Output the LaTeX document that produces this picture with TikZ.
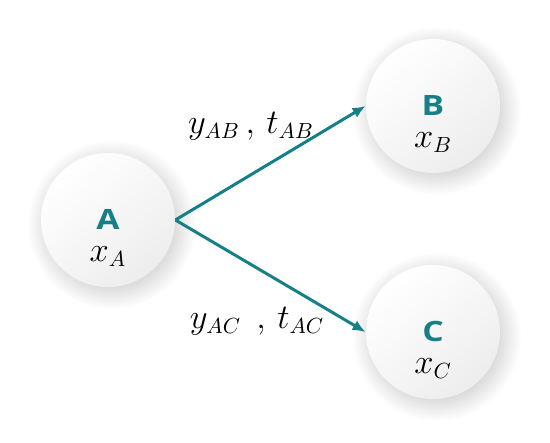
\documentclass[tikz,border=0pt]{standalone}
\usepackage{fontspec}
\setsansfont{Open Sans}
\usetikzlibrary{arrows.meta,shadows.blur}
\definecolor{tealline}{RGB}{22,128,134}
\newcommand{\ballname}[1]{{\sffamily\bfseries\fontsize{14}{16}\selectfont\color{tealline}\scalebox{1.2}[1]{#1}}}
\begin{document}
\begin{tikzpicture}[
 x=0.5pt,y=0.5pt,
 >={Latex[length=6.5pt,width=5.5pt]},
 align=center,
 ball/.style={circle,minimum size=67pt,inner sep=0pt,top color=white,bottom color=black!7,shading angle=40,
   blur shadow={shadow xshift=2pt,shadow yshift=-2.5pt,shadow blur radius=9pt,shadow blur steps=40,shadow opacity=22}},
 balltext/.style={font=\fontsize{16}{16}\selectfont,inner sep=0pt},
 edgelabel/.style={font=\fontsize{16}{18}\selectfont,inner sep=1pt},
 flow/.style={->,draw=tealline,fill=tealline,line width=1.5pt}
]
\useasboundingbox (0,0) rectangle (550,443);
% nodes
\node (A) [ball] at (108,223) {};
\node (B) [ball] at (433,337) {};
\node (C) [ball] at (433,111) {};
\node (A-text) [balltext] at ([yshift=-9pt]A.center) {\ballname{A}\\ $x_A$};
\node (B-text) [balltext] at ([yshift=-9pt]B.center) {\ballname{B}\\ $x_B$};
\node (C-text) [balltext] at ([yshift=-9pt]C.center) {\ballname{C}\\ $x_C$};
% links
\draw[flow] (A.east) -- (B.west);
\draw[flow] (A.east) -- (C.west);
\node (AB-label) [edgelabel] at (251,317) {$y_{AB}\,,\,t_{AB}$};
\node (AC-label) [edgelabel] at (257,122) {$y_{AC}\ \,,\,t_{AC}$};
\end{tikzpicture}
\end{document}
